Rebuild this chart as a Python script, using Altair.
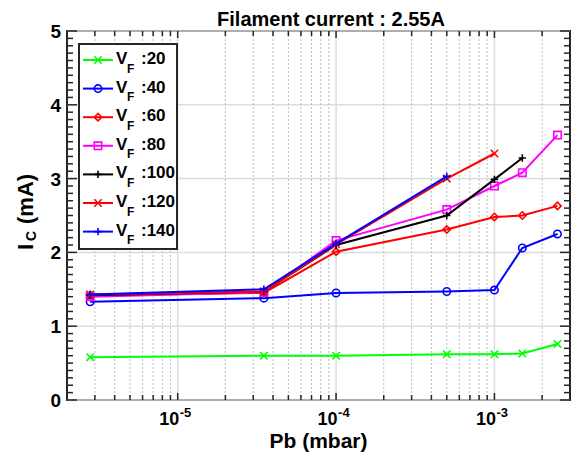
import altair as alt
import pandas as pd

# ---------------- data ----------------
P = [2.8e-6, 3.5e-5, 1e-4, 5e-4, 1e-3, 1.5e-3, 2.5e-3]
VF20 = [0.58, 0.60, 0.60, 0.62, 0.62, 0.63, 0.76]
VF40 = [1.33, 1.38, 1.45, 1.47, 1.49, 2.06, 2.25]
VF60 = [1.42, 1.45, 2.01, 2.31, 2.48, 2.50, 2.63]
VF80 = [1.40, 1.46, 2.16, 2.58, 2.90, 3.08, 3.59]
VF100 = [1.42, 1.47, 2.10, 2.50, 2.99, 3.28]
VF120 = [1.43, 1.47, 2.11, 3.00, 3.34]
VF140 = [1.43, 1.50, 2.12, 3.03]

SERIES = ["20", "40", "60", "80", "100", "120", "140"]
VALUES = [VF20, VF40, VF60, VF80, VF100, VF120, VF140]

X_MAJOR = [1e-5, 1e-4, 1e-3]
X_EXP = ["-5", "-4", "-3"]
X_MINOR = [3e-6, 4e-6, 5e-6, 6e-6, 7e-6, 8e-6, 9e-6,
           2e-5, 3e-5, 4e-5, 5e-5, 6e-5, 7e-5, 8e-5, 9e-5,
           2e-4, 3e-4, 4e-4, 5e-4, 6e-4, 7e-4, 8e-4, 9e-4,
           2e-3]
Y_MAJOR = [0, 1, 2, 3, 4, 5]
Y_MINOR = [round(i / 10, 1) for i in range(1, 50) if i % 10 != 0]

# ---------------- styles ----------------
XPATH = "M-1,-1L1,1M-1,1L1,-1"
PLUS = "M-1,0L1,0M0,-1L0,1"
COLORS = ["#00ff00", "#0000ff", "#ff0000", "#ff00ff", "#000000", "#ff0000", "#0000ff"]
SHAPES = [XPATH, "circle", "diamond", "square", PLUS, XPATH, PLUS]
FONT = "Liberation Sans"
AX = "#262626"
W, H = 503, 369

rows = []
for s, vals in zip(SERIES, VALUES):
    for p, v in zip(P, vals):
        rows.append({"p": p, "ic": v, "series": s})
df = pd.DataFrame(rows)

leg = pd.DataFrame({"series": SERIES, "idx": list(range(len(SERIES))),
                    "lab": [":" + s for s in SERIES]})

xs = alt.Scale(type="log", domain=[2e-6, 3e-3], nice=False)
ys = alt.Scale(domain=[0, 5], nice=False, zero=True)
cs = alt.Scale(domain=SERIES, range=COLORS)
ss = alt.Scale(domain=SERIES, range=SHAPES)

xmaj = pd.DataFrame({"v": X_MAJOR, "e": X_EXP})
xmin = pd.DataFrame({"v": X_MINOR})
ymaj = pd.DataFrame({"v": Y_MAJOR, "t": [str(v) for v in Y_MAJOR]})
ymin = pd.DataFrame({"v": Y_MINOR})

layers = []

# grids
layers.append(alt.Chart(ymaj).mark_rule(color="#dcdcdc", strokeWidth=1.5).encode(
    y=alt.Y("v:Q", scale=ys, axis=None)))
layers.append(alt.Chart(xmin).mark_rule(color="#bdbdbd", strokeWidth=1, strokeDash=[2, 2]).encode(
    x=alt.X("v:Q", scale=xs, axis=None)))
layers.append(alt.Chart(xmaj).mark_rule(color="#dcdcdc", strokeWidth=1.5).encode(
    x=alt.X("v:Q", scale=xs, axis=None)))

# data
for s in SERIES:
    base = alt.Chart(df).transform_filter(alt.datum.series == s)
    enc = dict(x=alt.X("p:Q", scale=xs, axis=None),
               y=alt.Y("ic:Q", scale=ys, axis=None),
               color=alt.Color("series:N", scale=cs, legend=None))
    layers.append(base.mark_line(strokeWidth=2).encode(**enc))
    layers.append(base.mark_point(filled=False, size=55, strokeWidth=1.6, opacity=1).encode(
        shape=alt.Shape("series:N", scale=ss, legend=None), **enc))

# ticks (pointing inward)
tk = dict(color=AX, strokeWidth=1.5)
layers.append(alt.Chart(xmaj).mark_rule(**tk).encode(
    x=alt.X("v:Q", scale=xs, axis=None), y=alt.value(H), y2=alt.value(H - 7)))
layers.append(alt.Chart(xmaj).mark_rule(**tk).encode(
    x=alt.X("v:Q", scale=xs, axis=None), y=alt.value(0), y2=alt.value(7)))
layers.append(alt.Chart(xmin).mark_rule(**tk).encode(
    x=alt.X("v:Q", scale=xs, axis=None), y=alt.value(H), y2=alt.value(H - 5)))
layers.append(alt.Chart(xmin).mark_rule(**tk).encode(
    x=alt.X("v:Q", scale=xs, axis=None), y=alt.value(0), y2=alt.value(5)))
layers.append(alt.Chart(ymaj).mark_rule(**tk).encode(
    y=alt.Y("v:Q", scale=ys, axis=None), x=alt.value(0), x2=alt.value(10)))
layers.append(alt.Chart(ymaj).mark_rule(**tk).encode(
    y=alt.Y("v:Q", scale=ys, axis=None), x=alt.value(W), x2=alt.value(W - 10)))
layers.append(alt.Chart(ymin).mark_rule(**tk).encode(
    y=alt.Y("v:Q", scale=ys, axis=None), x=alt.value(0), x2=alt.value(6)))
layers.append(alt.Chart(ymin).mark_rule(**tk).encode(
    y=alt.Y("v:Q", scale=ys, axis=None), x=alt.value(W), x2=alt.value(W - 6)))

txt = dict(font=FONT, fontWeight="bold", color="black", baseline="alphabetic")

# y tick labels
layers.append(alt.Chart(ymaj).mark_text(align="right", baseline="middle", fontSize=19,
                                        fontWeight="bold", font=FONT, color="black", dy=1).encode(
    y=alt.Y("v:Q", scale=ys, axis=None), x=alt.value(-6), text="t:N"))

# x tick labels 10^n
layers.append(alt.Chart(xmaj).mark_text(text="10", align="right", fontSize=18, dx=1.5, **txt).encode(
    x=alt.X("v:Q", scale=xs, axis=None), y=alt.value(H + 25)))
layers.append(alt.Chart(xmaj).mark_text(align="left", fontSize=13, dx=2, **txt).encode(
    x=alt.X("v:Q", scale=xs, axis=None), y=alt.value(H + 17), text="e:N"))

# axis titles and chart title
one = pd.DataFrame({"a": [0]})
layers.append(alt.Chart(one).mark_text(text="Pb (mbar)", align="center", fontSize=21, **txt).encode(
    x=alt.value(W / 2), y=alt.value(H + 48)))
layers.append(alt.Chart(one).mark_text(text="Filament current : 2.55A", align="center",
                                       fontSize=20, **txt).encode(
    x=alt.value(264), y=alt.value(-5.5)))
layers.append(alt.Chart(one).mark_text(text="I", align="left", angle=270, fontSize=22, **txt).encode(
    x=alt.value(-34), y=alt.value(219)))
layers.append(alt.Chart(one).mark_text(text="C", align="left", angle=270, fontSize=14,
                                       dx=9, dy=3, **txt).encode(
    x=alt.value(-34), y=alt.value(219)))
layers.append(alt.Chart(one).mark_text(text="(mA)", align="left", angle=270, fontSize=22,
                                       dx=26, **txt).encode(
    x=alt.value(-34), y=alt.value(219)))

# legend
layers.append(alt.Chart(one).mark_rect(fill="white", stroke=AX, strokeWidth=2).encode(
    x=alt.value(12), x2=alt.value(110), y=alt.value(13), y2=alt.value(218)))
lbase = alt.Chart(leg).transform_calculate(
    ly="29 + datum.idx * 28.6", ty="33 + datum.idx * 28.6", fy="41.5 + datum.idx * 28.6")
layers.append(lbase.mark_rule(strokeWidth=2).encode(
    x=alt.value(16), x2=alt.value(46), y=alt.Y("ly:Q", scale=None),
    color=alt.Color("series:N", scale=cs, legend=None)))
layers.append(lbase.mark_point(filled=False, size=55, strokeWidth=1.6, opacity=1).encode(
    x=alt.value(31), y=alt.Y("ly:Q", scale=None),
    color=alt.Color("series:N", scale=cs, legend=None),
    shape=alt.Shape("series:N", scale=ss, legend=None)))
layers.append(lbase.mark_text(text="V", align="left", fontSize=17, **txt).encode(
    x=alt.value(49), y=alt.Y("ty:Q", scale=None)))
layers.append(lbase.mark_text(text="F", align="left", fontSize=12, **txt).encode(
    x=alt.value(60), y=alt.Y("fy:Q", scale=None)))
layers.append(lbase.mark_text(align="left", fontSize=17, **txt).encode(
    x=alt.value(74), y=alt.Y("ty:Q", scale=None), text="lab:N"))

chart = alt.layer(*layers).properties(
    width=W, height=H,
    autosize=alt.AutoSizeParams(type="none"),
    padding={"left": 59, "top": 23, "right": 2, "bottom": 56},
    background="white",
).configure_view(stroke=AX, strokeWidth=2)

chart.save("out.html", embed_options={"renderer": "svg", "actions": False})
